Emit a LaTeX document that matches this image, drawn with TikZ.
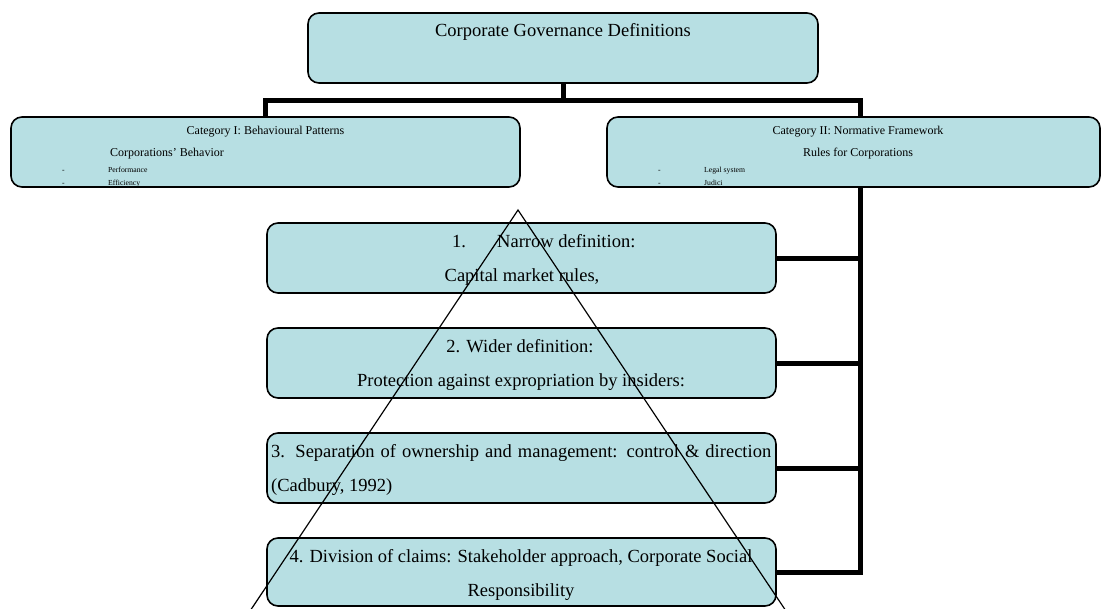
\documentclass[tikz,border=0pt]{standalone}
\usepackage{fontspec}
\setmainfont{Liberation Serif}
\definecolor{boxfill}{RGB}{183,223,227}
\begin{document}
\begin{tikzpicture}[x=1pt,y=-1pt,
  box/.style={draw=black, line width=1.6pt, fill=boxfill, rounded corners=11pt, inner sep=0pt},
  conn/.style={draw=black, line width=5pt},
  big/.style={font=\fontsize{18.5}{21}\selectfont, inner sep=0pt, anchor=base},
  mid/.style={font=\fontsize{12}{14}\selectfont, inner sep=0pt, anchor=base},
  small/.style={font=\fontsize{7.7}{9}\selectfont, inner sep=0pt, anchor=base west},
  tri/.style={draw=black, line width=1.2pt}]
\useasboundingbox (0,0) rectangle (1106,608);

% vertical trunk position of the right-hand connectors
\coordinate (trunk) at (860,0);
\coordinate (j) at (563,100);

% boxes
\node[box, minimum width=510pt, minimum height=70pt] (top) at (563,48) {};
\node[box, minimum width=509pt, minimum height=70pt] (c1) at (265.5,152) {};
\node[box, minimum width=493pt, minimum height=70pt] (c2) at (853.5,152) {};
\node[box, minimum width=509pt, minimum height=70pt] (b1) at (521.5,258) {};
\node[box, minimum width=509pt, minimum height=70pt] (b2) at (521.5,363) {};
\node[box, minimum width=509pt, minimum height=70pt] (b3) at (521.5,468) {};
\node[box, minimum width=509pt, minimum height=68pt] (b4) at (521.5,572) {};

% connectors
\draw[conn] (top.south) -- (j);
\draw[conn] (c1.north) |- (j) -| (c2.north -| trunk);
\draw[conn] (c2.south -| trunk) -- (b4.east -| trunk) -- (b4.east);
\draw[conn] (b1.east) -- (b1.east -| trunk);
\draw[conn] (b2.east) -- (b2.east -| trunk);
\draw[conn] (b3.east) -- (b3.east -| trunk);

% texts
\node[big] (topt) at (563,36) {Corporate Governance Definitions};

\node[mid] (c1a) at (265.5,134) {Category I: Behavioural Patterns};
\node[mid, anchor=base west] (c1b) at (110,156) {Corporations’ Behavior};
\node[small] (c1d1) at (62,172.5) {-};
\node[small] (c1i1) at (108,172.5) {Performance};
\node[small] (c1d2) at (62,185.5) {-};
\node[small] (c1i2) at (108,185.5) {Efficiency};

\node[mid] (c2a) at (858,134) {Category II: Normative Framework};
\node[mid] (c2b) at (858,156) {Rules for Corporations};
\node[small] (c2d1) at (658,172.5) {-};
\node[small] (c2i1) at (704,172.5) {Legal system};
\node[small] (c2d2) at (658,185.5) {-};
\node[small] (c2i2) at (704,185.5) {Judici};

\node[big, anchor=base west] (b1n) at (452,247) {1.};
\node[big, anchor=base west] (b1a) at (497,247) {Narrow definition:};
\node[big] (b1b) at (522,281) {Capital market rules,};

\node[big] (b2a) at (520,352) {2. Wider definition:};
\node[big] (b2b) at (521,386) {Protection against expropriation by insiders:};

\node[big, anchor=base west] (b3a) at (271,457) {\makebox[500pt][s]{3. Separation of ownership and management: control \& direction}};
\node[big, anchor=base west] (b3b) at (271,491) {(Cadbury, 1992)};

\node[big] (b4a) at (521,562) {4. Division of claims: Stakeholder approach, Corporate Social};
\node[big] (b4b) at (521,596) {Responsibility};

% pyramid outline over the boxes
\coordinate (apex) at (518,210);
\coordinate (tl) at (244,620);
\coordinate (tr) at (792,620);
\draw[tri] (tl) -- (apex) -- (tr);
\end{tikzpicture}
\end{document}
